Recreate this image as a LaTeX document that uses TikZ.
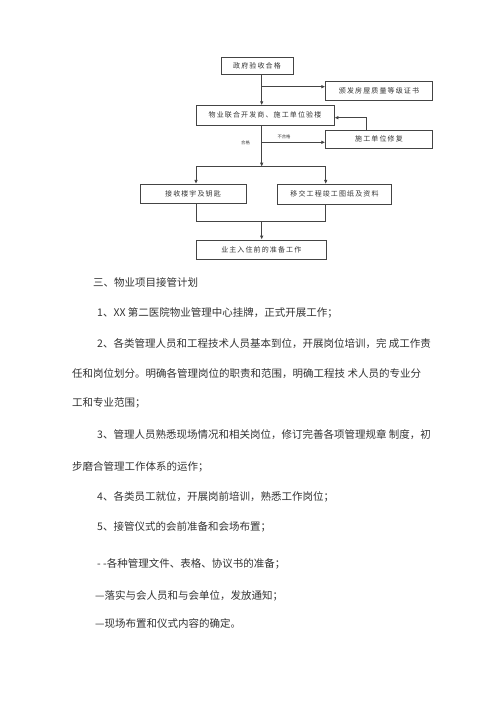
\documentclass[tikz,border=0pt]{standalone}
\usepackage{fontspec}
\setmainfont{Noto Sans CJK SC}
\newfontfamily\boxfont[LetterSpace=16]{Noto Sans CJK SC}
\usetikzlibrary{arrows.meta}
\definecolor{ink}{HTML}{333333}
\definecolor{lin}{HTML}{444444}
\tikzset{
  fbox/.style={draw=lin,line width=0.8pt,inner sep=0pt,font=\boxfont\fontsize{7}{8}\selectfont,text=ink},
  arr/.style={draw=lin,line width=0.8pt,-{Latex[length=4pt,width=3.6pt]}},
  ln/.style={draw=lin,line width=0.8pt},
  tiny/.style={inner sep=0pt,font=\fontsize{4.3}{5}\selectfont,text=ink},
  body/.style={anchor=west,inner sep=0pt,font=\fontsize{10.5}{12}\selectfont,text=ink}
}
\begin{document}
\begin{tikzpicture}[x=1pt,y=-1pt]
\useasboundingbox[fill=white] (0,0) rectangle (500,707);
% boxes
\node[fbox,minimum width=72pt,minimum height=17pt] (b1) at (257,65.7) {政府验收合格};
\node[fbox,minimum width=106.6pt,minimum height=19pt] (b3) at (379,91.2) {颁发房屋质量等级证书};
\node[fbox,minimum width=138pt,minimum height=19.3pt] (b2) at (265,115.3) {物业联合开发商、施工单位验楼};
\node[fbox,minimum width=106.6pt,minimum height=18.7pt] (b4) at (379,139.3) {施工单位修复};
\node[fbox,minimum width=106pt,minimum height=19pt] (b5) at (193,193.8) {接收楼宇及钥匙};
\node[fbox,minimum width=114.4pt,minimum height=19.7pt] (b6) at (334.5,194.2) {移交工程竣工图纸及资料};
\node[fbox,minimum width=130.7pt,minimum height=19pt] (b7) at (261.3,249.5) {业主入住前的准备工作};
% coordinates
\coordinate (vx) at (261.7,0);
\coordinate (j1) at (261.7,86.7);
\coordinate (j2) at (261.7,142.3);
\coordinate (j3) at (261.7,166.7);
\coordinate (L) at (196,166.7);
\coordinate (R) at (325.7,166.7);
\coordinate (jb) at (0,221.7);
\coordinate (fb) at (366.7,117.7);
% connectors
\draw[arr] (b1.south -| vx) -- (b2.north -| vx);
\draw[arr] (j1) -- (j1 -| b3.west);
\draw[arr] (b2.south -| vx) -- (j3);
\draw[arr] (j2) -- (j2 -| b4.west);
\draw[ln] (L) -- (R);
\draw[arr] (L) -- (L |- b5.north);
\draw[arr] (R) -- (R |- b6.north);
\draw[ln] (L |- b5.south) -- (L |- jb) -- (R |- jb) -- (R |- b6.south);
\draw[arr] (vx |- jb) -- (vx |- b7.north);
\draw[arr] (b4.north -| fb) -- (fb) -- (fb -| b2.east);
\node[tiny] (lbl1) at (284,136.5) {不合格};
\node[tiny] (lbl2) at (245.5,143.3) {合格};
% body text
\node[body] (t0) at (93,282.7) {三、物业项目接管计划};
\node[body] (t1) at (97,313) {1、XX 第二医院物业管理中心挂牌，正式开展工作；};
\node[body] (t2) at (97,344) {2、各类管理人员和工程技术人员基本到位，开展岗位培训，完 成工作责};
\node[body] (t3) at (72,373.3) {任和岗位划分。明确各管理岗位的职责和范围，明确工程技 术人员的专业分};
\node[body] (t4) at (72,403.3) {工和专业范围；};
\node[body] (t5) at (97,435) {3、管理人员熟悉现场情况和相关岗位，修订完善各项管理规章 制度，初};
\node[body] (t6) at (72,466.7) {步磨合管理工作体系的运作；};
\node[body] (t7) at (97,497.3) {4、各类员工就位，开展岗前培训，熟悉工作岗位；};
\node[body] (t8) at (97,527.3) {5、接管仪式的会前准备和会场布置；};
\node[body] (t9) at (97,564) {- -各种管理文件、表格、协议书的准备；};
\node[body] (t10) at (95,596) {—落实与会人员和与会单位，发放通知；};
\node[body] (t11) at (95,623.3) {—现场布置和仪式内容的确定。};
\end{tikzpicture}
\end{document}
